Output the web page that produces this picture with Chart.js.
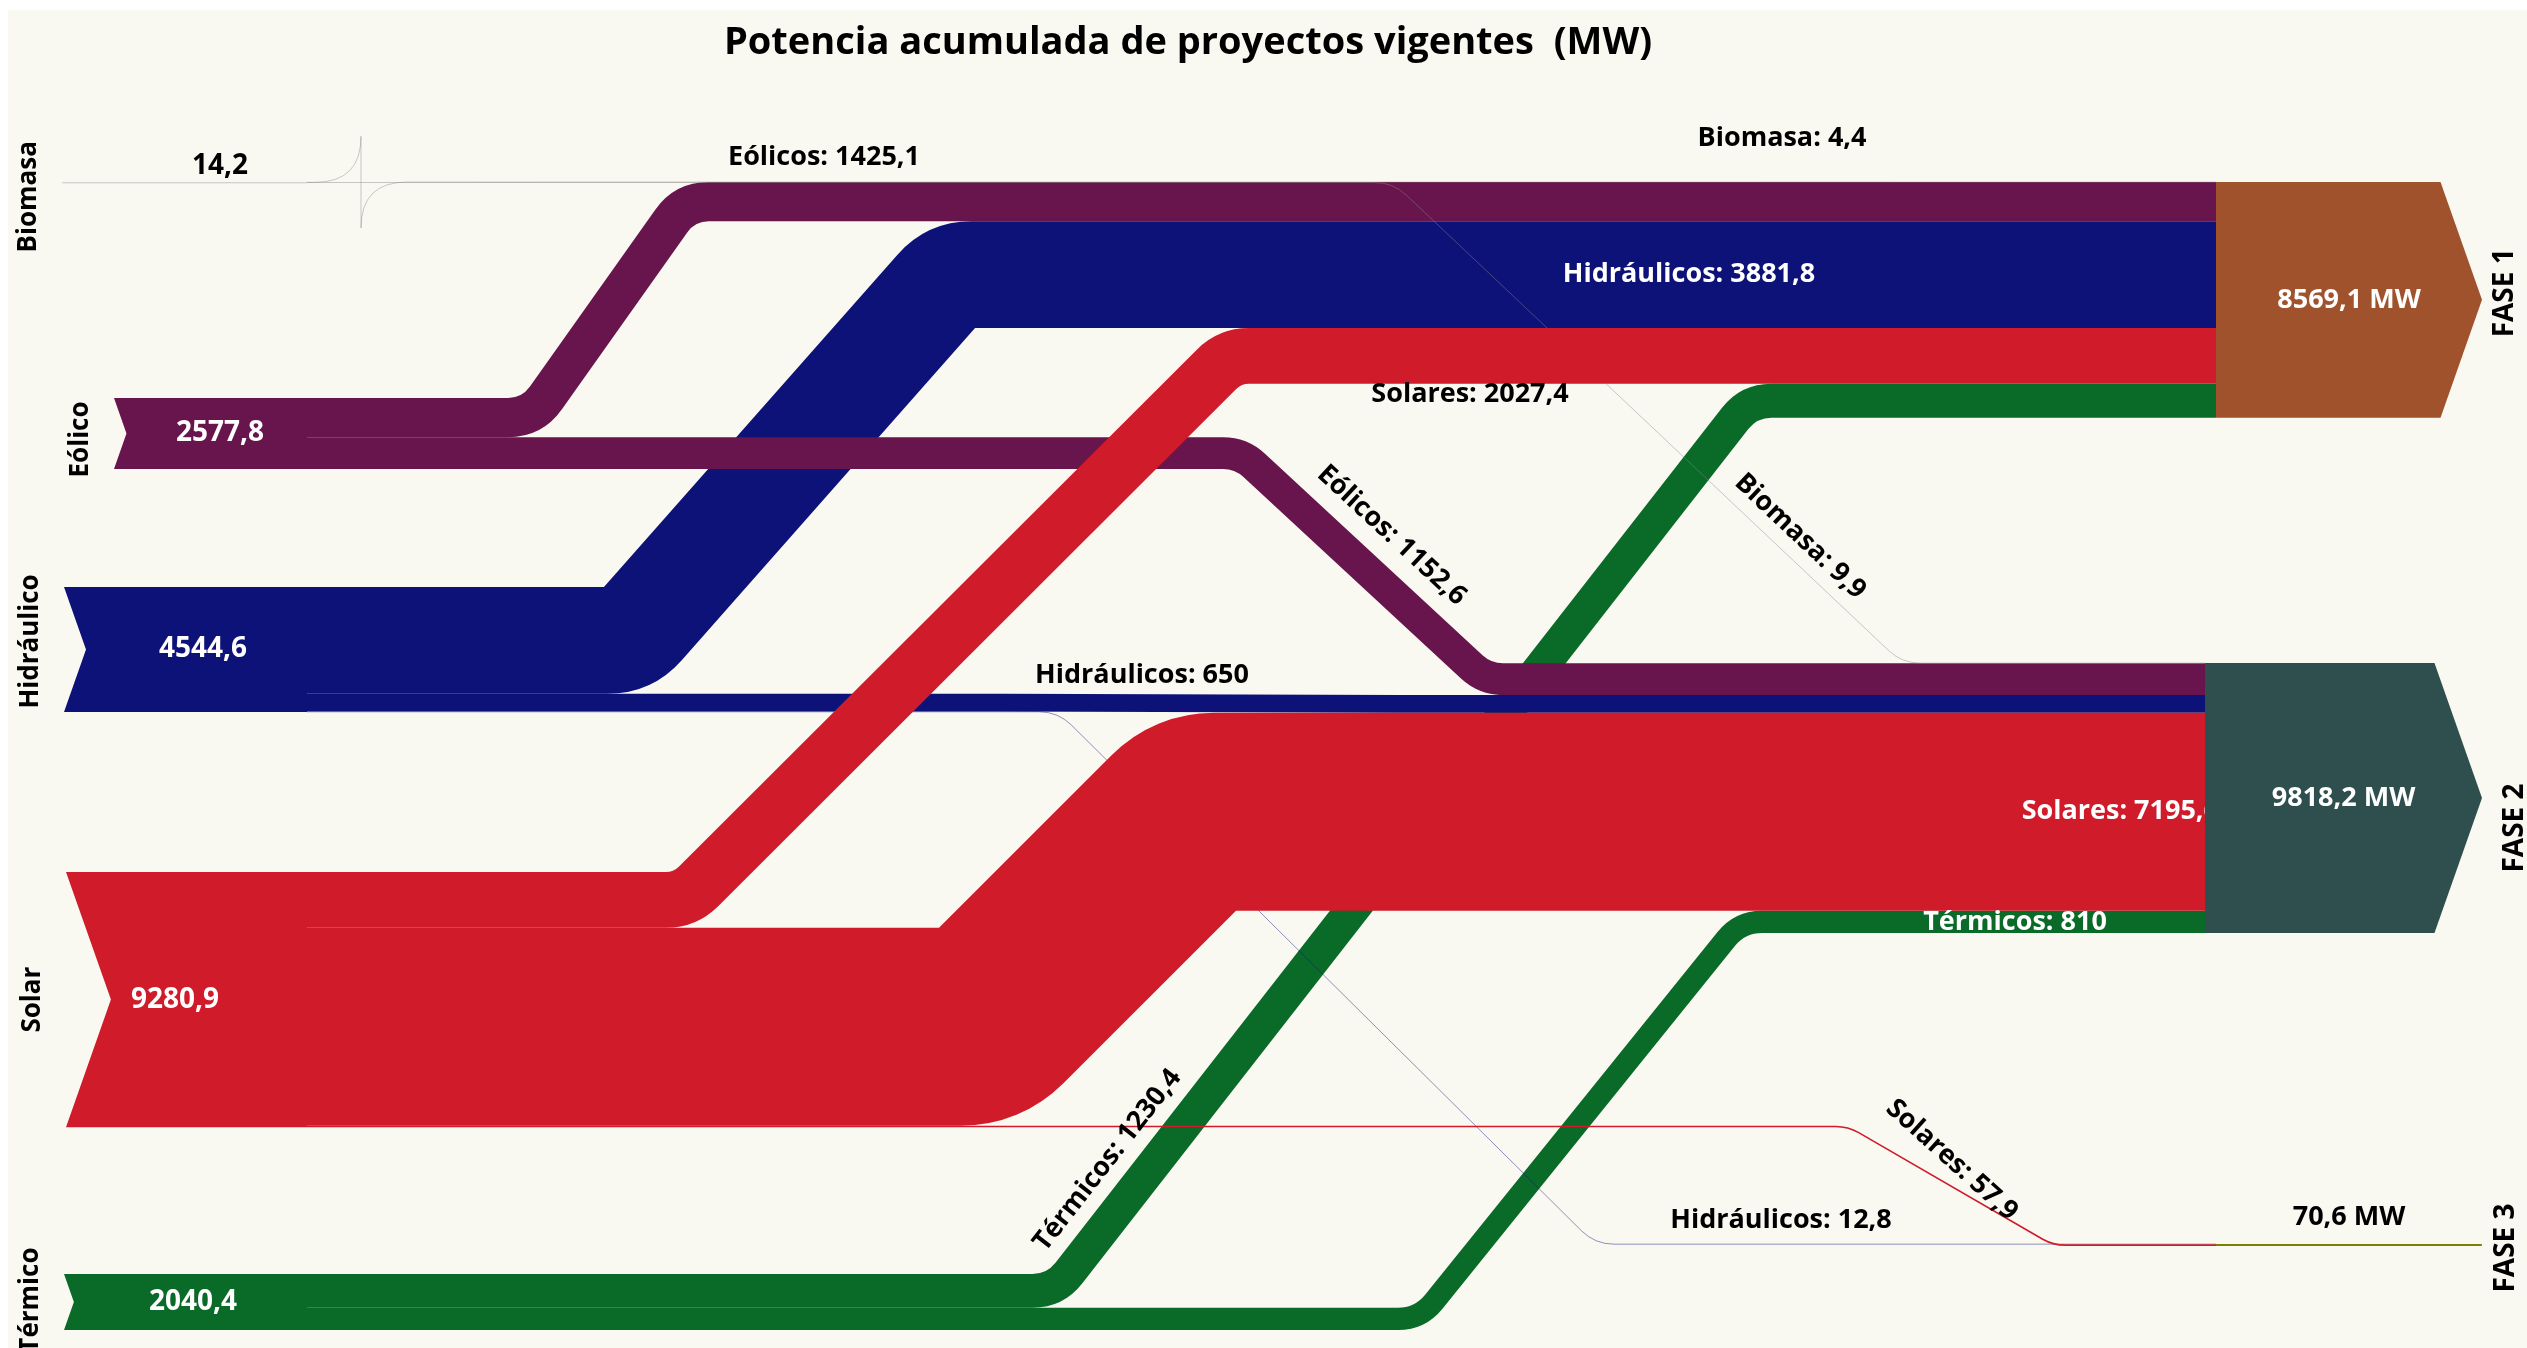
<!DOCTYPE html>
<html lang="es">
<head>
<meta charset="utf-8">
<title>Potencia acumulada de proyectos vigentes (MW)</title>
<script src="https://cdn.jsdelivr.net/npm/chart.js@4.4.1/dist/chart.umd.min.js"></script>
<style>
  html, body { margin: 0; padding: 0; background: #fff; }
  canvas { display: block; }
</style>
</head>
<body>
<canvas id="chart" width="2527" height="1348"></canvas>
<script>
// ---------- data ----------
const TITLE = "Potencia acumulada de proyectos vigentes  (MW)";
const SOURCES = ["Biomasa", "Eólico", "Hidráulico", "Solar", "Térmico"];
const SOURCE_MW = [14.2, 2577.8, 4544.6, 9280.9, 2040.4];
const TARGETS = ["FASE 1", "FASE 2", "FASE 3"];
const TARGET_MW = [8569.1, 9818.2, 70.6];
const FLOW_NAMES = ["Biomasa", "Eólicos", "Hidráulicos", "Solares", "Térmicos"];
// MW that each source sends to each phase (same order as SOURCES)
const TO_FASE1 = [4.4, 1425.1, 3881.8, 2027.4, 1230.4];
const TO_FASE2 = [9.9, 1152.6, 650, 7195.6, 810];
const TO_FASE3 = [0, 0, 12.8, 57.9, 0];

// ---------- layout (x in canvas columns, y in MW counted from the top) ----------
const Y_SPAN = 49018;
const SRC_TOP = [6628, 14473, 21345, 31709, 46327];
const TGT_TOP = [6618, 24109, 45236];
const SRC_LEFT = [62, 114, 64, 66, 64];
const SRC_RIGHT = 307;
const SRC_VALUE_X = [220, 220, 203, 175, 193];
const SRC_NAME_DY = [14, 6, -8, 0, -2];
const TGT_LEFT = [2216, 2205, 2216];
const TGT_TIP = 2482;
const TGT_NAME_DX = [23, 33, 24];
const TGT_NAME_DY = [-7, 30, 3];
const TITLE_X = 1188;
const NOTCH = 0.176;
const CORNER = 46;
// where each link leaves its row and where it reaches the target row
const BENDS = {
  "0-0": [361, 361], "0-1": [1393, 1902],
  "1-0": [532, 685], "1-1": [1241, 1485],
  "2-0": [628, 951], "2-1": [1000, 1400], "2-2": [1058, 1595],
  "3-0": [685, 1230], "3-1": [980, 1195], "3-2": [1848, 2053],
  "4-0": [1055, 1749], "4-1": [1420, 1740],
};
const LINK_LABELS = {
  "0-0": { place: "above", x: 1782, gap: 44 },
  "0-1": { place: "diag", t: 0.77 },
  "1-0": { place: "above", x: 824, gap: 25 },
  "1-1": { place: "diag", t: 0.5, off: 42 },
  "2-0": { place: "inside", x: 1689 },
  "2-1": { place: "above", x: 1142, gap: 20 },
  "2-2": { place: "above", x: 1781, gap: 24 },
  "3-0": { place: "below", x: 1470 },
  "3-1": { place: "inside", x: 2219, align: "right" },
  "3-2": { place: "diag", t: 0.45, rot: 42 },
  "4-0": { place: "diag", t: 0.12 },
  "4-1": { place: "inside", x: 2015 },
};
const DRAW_ORDER = ["4-0", "4-1", "2-0", "2-1", "2-2", "1-0", "1-1", "0-0", "0-1", "3-0", "3-1", "3-2"];

// ---------- styles ----------
const BG = "#f9f8f1";
const FONT = '"Comic Sans MS", "Open Sans", sans-serif';
const SRC_COLORS = ["#8a8a8a", "#67154c", "#0d1278", "#cf1b2a", "#0a6a28"];
const TGT_COLORS = ["#a0522d", "#2f4f4f", "#808000"];

const fmt = (v) => String(v).replace(".", ",");

function buildLinks() {
  const flows = [TO_FASE1, TO_FASE2, TO_FASE3];
  const srcUsed = SOURCES.map(() => 0);
  const tgtUsed = TARGETS.map(() => 0);
  const links = [];
  SOURCES.forEach((_, i) =>
    flows.forEach((col, j) => {
      const v = col[i];
      if (!v) return;
      links.push({ key: `${i}-${j}`, i, j, v, s0: SRC_TOP[i] + srcUsed[i], t0: TGT_TOP[j] + tgtUsed[j] });
      srcUsed[i] += v;
      tgtUsed[j] += v;
    })
  );
  return links;
}

function geometry(L, X, Y, T) {
  const b = BENDS[L.key];
  const y0 = Y(L.s0 + L.v / 2);
  const y1 = Y(L.t0 + L.v / 2);
  return {
    ...L,
    h: T(L.v),
    p0: { x: X(SRC_RIGHT), y: y0 },
    p1: { x: X(b[0]), y: y0 },
    p2: { x: X(b[1]), y: y1 },
    p3: { x: X(TGT_LEFT[L.j]), y: y1 },
  };
}

function unit(from, to) {
  const dx = to.x - from.x, dy = to.y - from.y, l = Math.hypot(dx, dy);
  return l < 1e-9 ? null : { x: dx / l, y: dy / l };
}

function corner(ctx, a, b, c) {
  const u = unit(b, a), w = unit(b, c);
  if (!u || !w) { ctx.lineTo(b.x, b.y); return; }
  const cos = Math.max(-1, Math.min(1, -(u.x * w.x + u.y * w.y)));
  const t = CORNER * Math.tan(Math.acos(cos) / 2);
  ctx.lineTo(b.x + u.x * t, b.y + u.y * t);
  ctx.quadraticCurveTo(b.x, b.y, b.x + w.x * t, b.y + w.y * t);
}

function strokeLink(ctx, g) {
  ctx.save();
  ctx.beginPath();
  ctx.moveTo(g.p0.x, g.p0.y);
  corner(ctx, g.p0, g.p1, g.p2);
  corner(ctx, g.p1, g.p2, g.p3);
  ctx.lineTo(g.p3.x, g.p3.y);
  ctx.lineWidth = Math.max(g.h, 1);
  ctx.globalAlpha = g.h < 1 ? 0.45 : 1;
  ctx.strokeStyle = SRC_COLORS[g.i];
  ctx.lineCap = "butt";
  ctx.lineJoin = "round";
  ctx.stroke();
  ctx.restore();
}

function linkLabel(ctx, g, X) {
  const spec = LINK_LABELS[g.key];
  const text = `${FLOW_NAMES[g.i]}: ${fmt(g.v)}`;
  let cx, cy, rot = 0;
  if (spec.place === "diag") {
    const dx = g.p2.x - g.p1.x, dy = g.p2.y - g.p1.y, len = Math.hypot(dx, dy);
    const nx = dy / len, ny = -dx / len;
    const off = spec.off ?? g.h / 2 + 22;
    cx = g.p1.x + dx * spec.t + nx * off;
    cy = g.p1.y + dy * spec.t + ny * off;
    rot = spec.rot != null ? (spec.rot * Math.PI) / 180 : Math.atan2(dy, dx);
  } else {
    cx = X(spec.x);
    const yc = cx <= g.p1.x ? g.p1.y : g.p2.y;
    if (spec.place === "above") cy = yc - g.h / 2 - (spec.gap ?? 22);
    else if (spec.place === "below") cy = yc + g.h / 2 + (spec.gap ?? 11);
    else cy = yc;
  }
  ctx.save();
  ctx.translate(cx, cy);
  ctx.rotate(rot);
  ctx.font = `bold 27px ${FONT}`;
  ctx.fillStyle = spec.place === "inside" ? "#ffffff" : "#000000";
  ctx.textAlign = spec.align || "center";
  ctx.textBaseline = "middle";
  ctx.fillText(text, 0, 0);
  ctx.restore();
}

function sourceNode(ctx, i, X, Y, T) {
  const top = Y(SRC_TOP[i]);
  const real = T(SOURCE_MW[i]);
  const h = Math.max(real, 1);
  const left = X(SRC_LEFT[i]), right = X(SRC_RIGHT);
  ctx.save();
  ctx.fillStyle = SRC_COLORS[i];
  ctx.globalAlpha = real < 1 ? 0.45 : 1;
  ctx.beginPath();
  ctx.moveTo(left, top);
  ctx.lineTo(right, top);
  ctx.lineTo(right, top + h);
  ctx.lineTo(left, top + h);
  ctx.lineTo(left + h * NOTCH, top + h / 2);
  ctx.closePath();
  ctx.fill();
  ctx.globalAlpha = 1;
  const inside = real > 30;
  ctx.fillStyle = inside ? "#ffffff" : "#000000";
  ctx.font = `bold 28px ${FONT}`;
  ctx.textAlign = "center";
  ctx.textBaseline = "middle";
  ctx.fillText(fmt(SOURCE_MW[i]), X(SRC_VALUE_X[i]), inside ? top + h / 2 : top - 16);
  ctx.translate(left - 33, top + h / 2 + SRC_NAME_DY[i]);
  ctx.rotate(-Math.PI / 2);
  ctx.fillStyle = "#000000";
  ctx.font = `bold 26px ${FONT}`;
  ctx.fillText(SOURCES[i], 0, 0);
  ctx.restore();
}

function targetNode(ctx, j, X, Y, T) {
  const top = Y(TGT_TOP[j]);
  const h = Math.max(T(TARGET_MW[j]), 1);
  const left = X(TGT_LEFT[j]), tip = X(TGT_TIP);
  const shoulder = tip - h * NOTCH;
  ctx.save();
  ctx.fillStyle = TGT_COLORS[j];
  ctx.beginPath();
  ctx.moveTo(left, top);
  ctx.lineTo(shoulder, top);
  ctx.lineTo(tip, top + h / 2);
  ctx.lineTo(shoulder, top + h);
  ctx.lineTo(left, top + h);
  ctx.closePath();
  ctx.fill();
  const inside = h > 30;
  ctx.fillStyle = inside ? "#ffffff" : "#000000";
  ctx.font = `bold 27px ${FONT}`;
  ctx.textAlign = "center";
  ctx.textBaseline = "middle";
  ctx.fillText(`${fmt(TARGET_MW[j])} MW`, (left + tip) / 2, inside ? top + h / 2 : top - 27);
  ctx.translate(tip + TGT_NAME_DX[j], top + h / 2 + TGT_NAME_DY[j]);
  ctx.rotate(-Math.PI / 2);
  ctx.fillStyle = "#000000";
  ctx.font = `bold 28px ${FONT}`;
  ctx.fillText(TARGETS[j], 0, 0);
  ctx.restore();
}

// ---------- sankey drawn on the chart's scales ----------
const sankey = {
  id: "sankey",
  beforeDraw(chart) {
    const { ctx, width, height } = chart;
    ctx.save();
    ctx.fillStyle = "#ffffff";
    ctx.fillRect(0, 0, width, height);
    ctx.fillStyle = BG;
    ctx.fillRect(8, 10, width - 8, height - 10);
    ctx.restore();
  },
  afterDatasetsDraw(chart) {
    const { ctx } = chart;
    const { x, y } = chart.scales;
    const X = (v) => x.getPixelForValue(v);
    const Y = (v) => y.getPixelForValue(v);
    const T = (v) => Math.abs(Y(v) - Y(0));

    const links = buildLinks().map((L) => geometry(L, X, Y, T));
    const byKey = Object.fromEntries(links.map((g) => [g.key, g]));
    DRAW_ORDER.forEach((k) => byKey[k] && strokeLink(ctx, byKey[k]));
    links.forEach((g) => linkLabel(ctx, g, X));
    SOURCES.forEach((_, i) => sourceNode(ctx, i, X, Y, T));
    TARGETS.forEach((_, j) => targetNode(ctx, j, X, Y, T));

    ctx.save();
    ctx.fillStyle = "#000000";
    ctx.font = `bold 38px ${FONT}`;
    ctx.textAlign = "center";
    ctx.textBaseline = "middle";
    ctx.fillText(TITLE, X(TITLE_X), 43);
    ctx.restore();
  },
};

new Chart(document.getElementById("chart"), {
  type: "scatter",
  data: { datasets: [{ label: "MW", data: [] }] },
  options: {
    responsive: false,
    animation: false,
    devicePixelRatio: 1,
    layout: { padding: 0 },
    plugins: { legend: { display: false }, tooltip: { enabled: false } },
    scales: {
      x: { type: "linear", min: 0, max: 2527, display: false },
      y: { type: "linear", min: 0, max: Y_SPAN, reverse: true, display: false },
    },
  },
  plugins: [sankey],
});
</script>
</body>
</html>
